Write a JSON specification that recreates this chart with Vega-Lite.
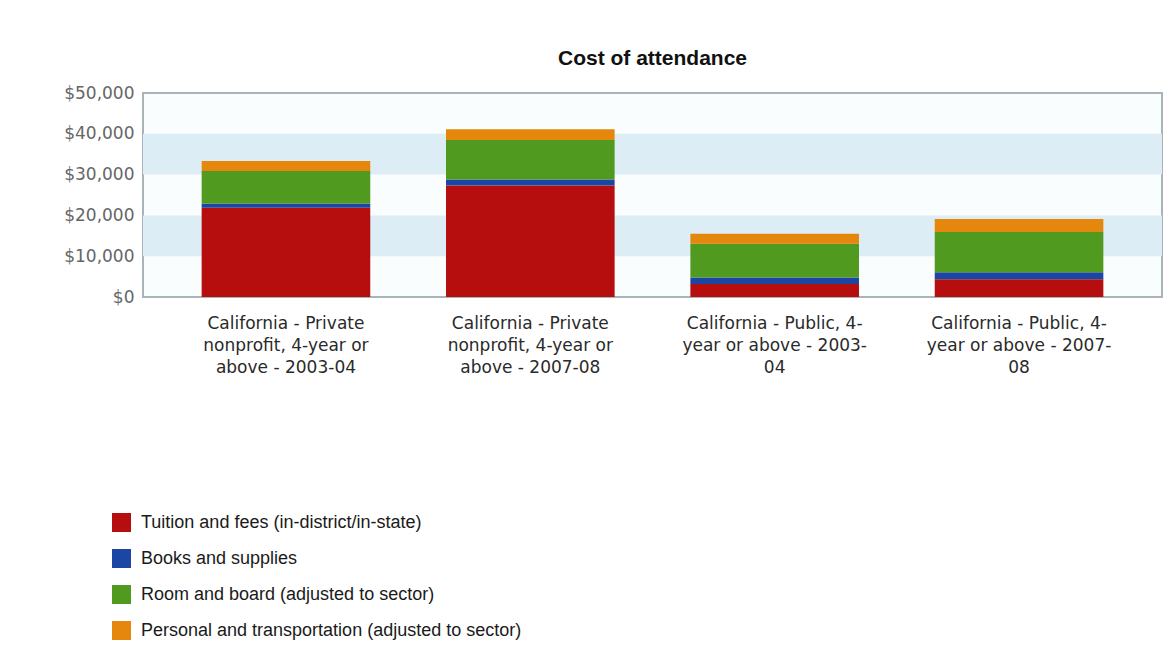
{
  "$schema": "https://vega.github.io/schema/vega-lite/v6.json",
  "autosize": {"type": "none"},
  "width": 1019,
  "height": 204,
  "padding": {"left": 143, "top": 93, "right": 14, "bottom": 364},
  "background": "#ffffff",
  "config": {
    "view": {"stroke": "#aab3b7", "strokeWidth": 2, "fill": "#fafdfe"},
    "axis": {"grid": false, "ticks": false, "domain": false}
  },
  "title": {
    "text": "Cost of attendance",
    "font": "Liberation Sans",
    "fontSize": 21,
    "fontWeight": "bold",
    "color": "#111111",
    "anchor": "middle",
    "baseline": "alphabetic",
    "offset": -2
  },
  "datasets": {
    "bands": [
      {"lo": 10000, "hi": 20000},
      {"lo": 30000, "hi": 40000}
    ],
    "costs": [
      {"sector": "Private 2003-04", "component": "Tuition and fees (in-district/in-state)", "amount": 21850},
      {"sector": "Private 2003-04", "component": "Books and supplies", "amount": 1050},
      {"sector": "Private 2003-04", "component": "Room and board (adjusted to sector)", "amount": 7960},
      {"sector": "Private 2003-04", "component": "Personal and transportation (adjusted to sector)", "amount": 2470},
      {"sector": "Private 2007-08", "component": "Tuition and fees (in-district/in-state)", "amount": 27340},
      {"sector": "Private 2007-08", "component": "Books and supplies", "amount": 1480},
      {"sector": "Private 2007-08", "component": "Room and board (adjusted to sector)", "amount": 9680},
      {"sector": "Private 2007-08", "component": "Personal and transportation (adjusted to sector)", "amount": 2630},
      {"sector": "Public 2003-04", "component": "Tuition and fees (in-district/in-state)", "amount": 3200},
      {"sector": "Public 2003-04", "component": "Books and supplies", "amount": 1550},
      {"sector": "Public 2003-04", "component": "Room and board (adjusted to sector)", "amount": 8300},
      {"sector": "Public 2003-04", "component": "Personal and transportation (adjusted to sector)", "amount": 2470},
      {"sector": "Public 2007-08", "component": "Tuition and fees (in-district/in-state)", "amount": 4360},
      {"sector": "Public 2007-08", "component": "Books and supplies", "amount": 1720},
      {"sector": "Public 2007-08", "component": "Room and board (adjusted to sector)", "amount": 9860},
      {"sector": "Public 2007-08", "component": "Personal and transportation (adjusted to sector)", "amount": 3200}
    ]
  },
  "layer": [
    {
      "data": {"name": "bands"},
      "mark": {"type": "rect", "color": "#dcedf6"},
      "encoding": {
        "y": {"field": "lo", "type": "quantitative", "scale": {"domain": [0, 50000]}},
        "y2": {"field": "hi"}
      }
    },
    {
      "data": {"name": "costs"},
      "transform": [
        {"calculate": "indexof(['Tuition and fees (in-district/in-state)', 'Books and supplies', 'Room and board (adjusted to sector)', 'Personal and transportation (adjusted to sector)'], datum.component)", "as": "stackRank"}
      ],
      "mark": {"type": "bar"},
      "encoding": {
        "x": {
          "field": "sector",
          "type": "nominal",
          "sort": null,
          "scale": {"paddingInner": 0.31, "paddingOuter": 0.24},
          "axis": {
            "title": null,
            "labelAngle": 0,
            "labelFont": "DejaVu Sans",
            "labelFontSize": 17,
            "labelColor": "#2a2a2a",
            "labelLineHeight": 22,
            "labelPadding": 18,
            "labelLimit": 400,
            "labelBaseline": "top",
            "labelExpr": "datum.value == 'Private 2003-04' ? ['California - Private', 'nonprofit, 4-year or', 'above - 2003-04'] : datum.value == 'Private 2007-08' ? ['California - Private', 'nonprofit, 4-year or', 'above - 2007-08'] : datum.value == 'Public 2003-04' ? ['California - Public, 4-', 'year or above - 2003-', '04'] : ['California - Public, 4-', 'year or above - 2007-', '08']"
          }
        },
        "y": {
          "field": "amount",
          "type": "quantitative",
          "aggregate": "sum",
          "stack": "zero",
          "scale": {"domain": [0, 50000]},
          "axis": {
            "title": null,
            "values": [0, 10000, 20000, 30000, 40000, 50000],
            "format": "$,.0f",
            "labelFont": "DejaVu Sans",
            "labelFontSize": 17,
            "labelColor": "#666666",
            "labelPadding": 9
          }
        },
        "color": {
          "field": "component",
          "type": "nominal",
          "sort": ["Tuition and fees (in-district/in-state)", "Books and supplies", "Room and board (adjusted to sector)", "Personal and transportation (adjusted to sector)"],
          "scale": {
            "domain": ["Tuition and fees (in-district/in-state)", "Books and supplies", "Room and board (adjusted to sector)", "Personal and transportation (adjusted to sector)"],
            "range": ["#b60d0e", "#1c46a4", "#4f9a1f", "#e5870c"]
          },
          "legend": {
            "title": null,
            "orient": "none",
            "legendX": -31,
            "legendY": 420,
            "padding": 0,
            "symbolType": "square",
            "symbolSize": 361,
            "symbolStrokeWidth": 0,
            "labelFont": "Liberation Sans",
            "labelFontSize": 18,
            "labelColor": "#1a1a1a",
            "labelOffset": 10,
            "rowPadding": 17,
            "labelLimit": 500
          }
        },
        "order": {"field": "stackRank", "type": "quantitative", "aggregate": "min"}
      }
    }
  ]
}
